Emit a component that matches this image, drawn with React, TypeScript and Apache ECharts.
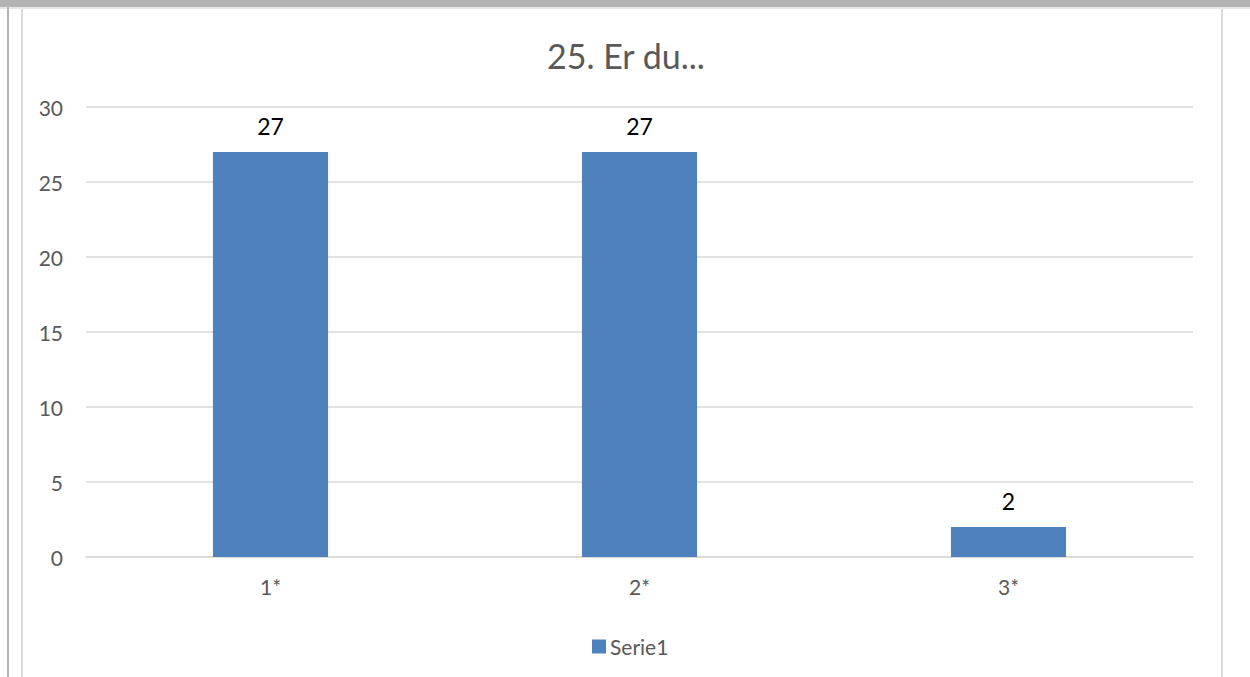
import React, { useEffect, useRef } from "react";
import * as echarts from "echarts";

const categories = ["1*", "2*", "3*"];
const serie1 = [27, 27, 2];
const yTicks = { min: 0, max: 30, interval: 5 };
const titleText = "25. Er du...";
const seriesName = "Serie1";

export default function App() {
  const ref = useRef<HTMLDivElement>(null);
  useEffect(() => {
    if (!ref.current) return;
    const chart = echarts.init(ref.current, undefined, { renderer: "svg" });
    const font = "Lato, 'Open Sans', sans-serif";
    chart.setOption({
      animation: false,
      backgroundColor: "#ffffff",
      textStyle: { fontFamily: font },
      title: {
        text: titleText,
        left: 542,
        top: 33,
        textStyle: { fontSize: 34, fontWeight: "normal", color: "#595959", fontFamily: font },
      },
      legend: {
        data: [seriesName],
        left: 587,
        top: 631,
        itemWidth: 14,
        itemHeight: 14,
        icon: "rect",
        itemGap: 5,
        textStyle: { fontSize: 21, color: "#595959", fontFamily: font, padding: [0, 0, 0, -1] },
      },
      grid: { left: 86, right: 57, top: 107, bottom: 120 },
      xAxis: {
        type: "category",
        data: categories,
        axisLine: { lineStyle: { color: "#d9d9d9", width: 1.5 } },
        axisTick: { show: false },
        axisLabel: { color: "#595959", fontSize: 21, margin: 19, fontFamily: font },
      },
      yAxis: {
        type: "value",
        min: yTicks.min,
        max: yTicks.max,
        interval: yTicks.interval,
        axisLine: { show: false },
        axisTick: { show: false },
        splitLine: { lineStyle: { color: "#d9d9d9", width: 1.5 } },
        axisLabel: { color: "#595959", fontSize: 21, margin: 23, fontFamily: font },
      },
      series: [
        {
          name: seriesName,
          type: "bar",
          data: serie1,
          barWidth: "31.2%",
          itemStyle: { color: "#4f81bd" },
          label: {
            show: true,
            position: "top",
            distance: 15,
            color: "#000000",
            fontSize: 23,
            fontFamily: font,
          },
        },
      ],
      graphic: [
        { type: "rect", shape: { x: 0, y: 0, width: 1250, height: 7 }, style: { fill: "#b3b3b3" }, silent: true },
        { type: "rect", shape: { x: 0, y: 7, width: 1250, height: 2 }, style: { fill: "#e6e6e6" }, silent: true },
        { type: "rect", shape: { x: 7, y: 7, width: 2, height: 670 }, style: { fill: "#b3b3b3" }, silent: true },
        { type: "rect", shape: { x: 21, y: 9, width: 2, height: 668 }, style: { fill: "#d9d9d9" }, silent: true },
        { type: "rect", shape: { x: 1221, y: 9, width: 2, height: 668 }, style: { fill: "#d9d9d9" }, silent: true },
      ],
    });
    return () => chart.dispose();
  }, []);
  return (
    <div
      ref={ref}
      style={{ position: "fixed", left: 0, top: 0, width: 1250, height: 677 }}
    />
  );
}
